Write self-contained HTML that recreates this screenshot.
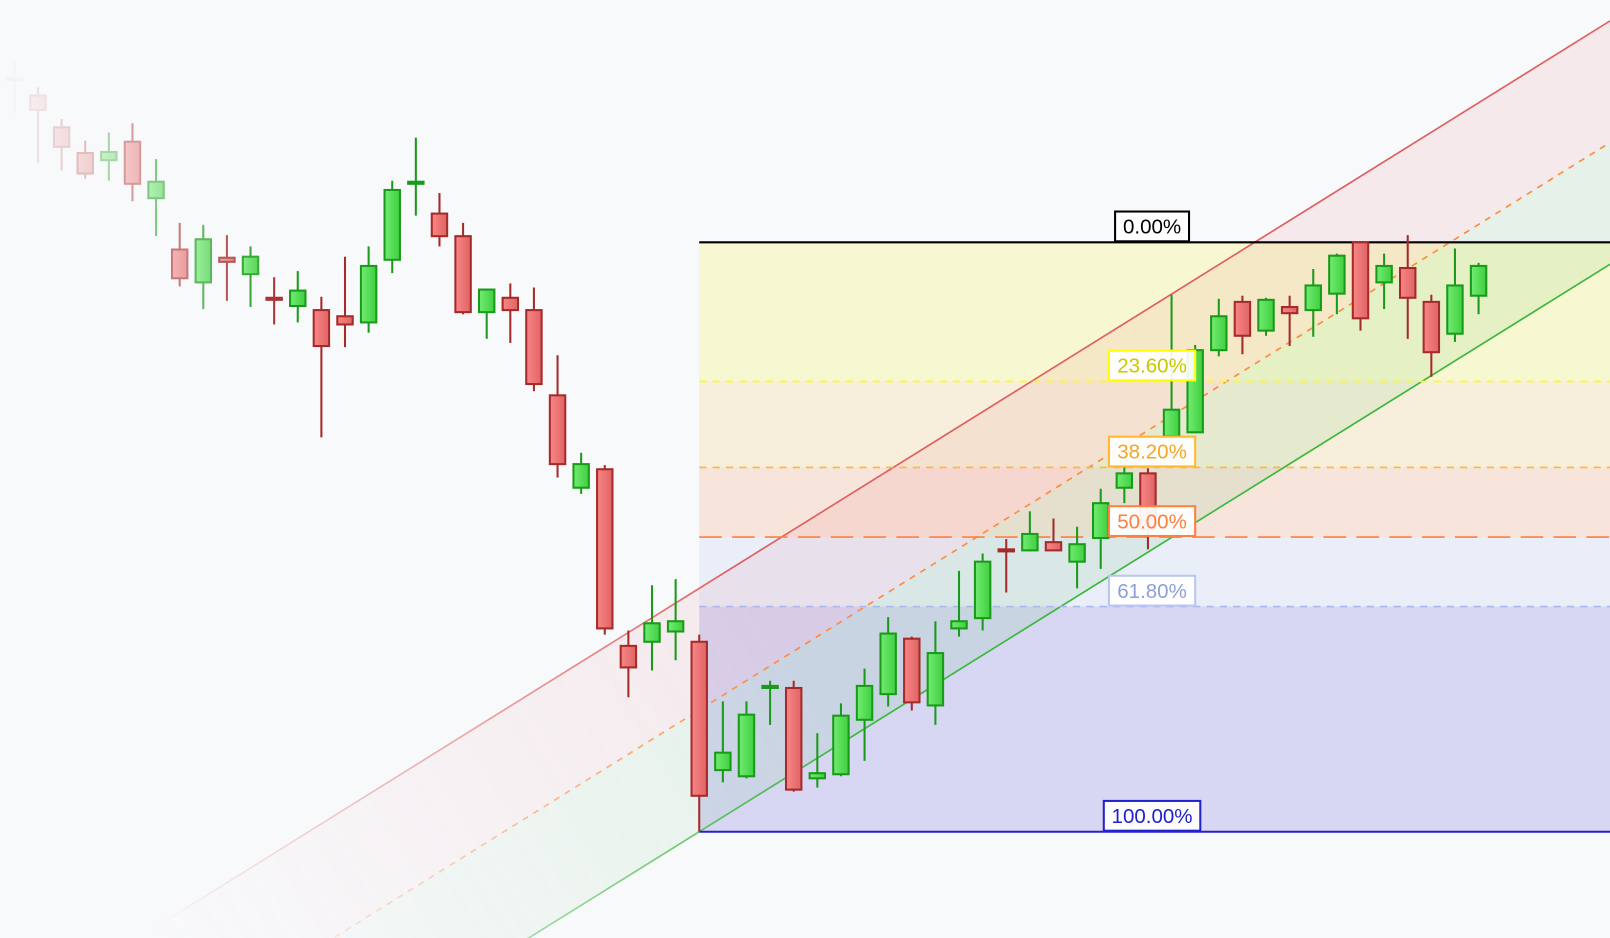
<!DOCTYPE html>
<html><head><meta charset="utf-8"><style>
html,body{margin:0;padding:0;background:#f8f9fb;width:1610px;height:938px;overflow:hidden;position:relative;}
svg{display:block;position:absolute;left:0;top:0;font-family:"Liberation Sans",sans-serif;}
</style></head><body>
<svg id="chart" width="1610" height="938" viewBox="0 0 1568 913.5" preserveAspectRatio="none" overflow="hidden" xmlns="http://www.w3.org/2000/svg">
<defs>
<linearGradient id="gUp" x1="0" x2="1"><stop offset="0" stop-color="#72ec72"/><stop offset="1" stop-color="#3fcf3f"/></linearGradient>
<linearGradient id="gDn" x1="0" x2="1"><stop offset="0" stop-color="#f88686"/><stop offset="1" stop-color="#e06464"/></linearGradient>
<linearGradient id="fadeLine" gradientUnits="userSpaceOnUse" x1="150" y1="913" x2="720" y2="560">
<stop offset="0" stop-color="#fff" stop-opacity="0"/><stop offset="1" stop-color="#fff" stop-opacity="1"/></linearGradient>
<mask id="chanMask" maskUnits="userSpaceOnUse" x="0" y="0" width="1568" height="913.5"><rect x="0" y="0" width="1568" height="913.5" fill="url(#fadeLine)"/></mask>
</defs>
<rect x="0" y="0" width="1568" height="913.5" fill="#f8f9fb"/>
<g id="fibZones"></g>
<g id="channel" mask="url(#chanMask)"></g>
<g id="fibLines"></g>
<g id="candles"></g>
<g id="fibLabels"></g>
</svg>
<script>
// ---- data (prices) ----
const opens  = [922,907,876,851,844,862,807,757,725,749,733,710,702,698,692,686,747,821,792,770,696,710,698,615,525,543,371,375,385,375,250,244,330,330,242,246,299,324,378,313,388,398,465,464,472,453,476,525,539,575,579,659,706,678,701,698,714,764,725,739,706,675,712];
const closes = [924,893,857,831,852,821,823,729,767,745,750,708,717,663,684,741,815,823,770,696,718,698,626,548,548,388,350,393,395,225,267,304,332,231,247,303,332,383,316,364,395,453,463,480,464,470,510,539,485,601,659,692,673,708,695,722,751,690,741,710,657,722,741];
const highs  = [943,915,884,863,871,880,845,783,781,771,760,730,736,711,750,760,824,866,812,783,718,724,720,654,559,547,386,430,436,382,317,317,337,337,286,315,349,399,380,395,444,461,475,502,495,487,524,548,544,713,664,709,712,710,712,738,753,764,753,771,713,758,744];
const lows   = [889,841,834,826,824,804,770,721,699,707,701,684,686,574,662,676,734,790,760,694,670,666,619,535,519,382,321,347,357,190,238,242,294,229,233,244,259,312,308,294,380,386,423,463,464,427,446,510,465,572,578,653,655,673,663,672,694,678,699,670,633,667,694];
const fibRatios = [0, 0.236, 0.382, 0.5, 0.618, 1];
const fibLabelsTxt = ["0.00%","23.60%","38.20%","50.00%","61.80%","100.00%"];
const fibSwing = [190, 764]; // low, high
const fibStartIndex = 29;
const channelAnchor = [29, 190];   // bar index, price of lower line
const channelSlope = [14.33];      // price per bar
const channelWidth = [237];        // price offset of upper line

// ---- axis functions ----
const X0 = 14, STEP = 23;
const xOf = i => X0 + STEP * i;
const yOf = p => 1000 - p;
const NS = "http://www.w3.org/2000/svg";
function mk(tag, attrs, parent){const e=document.createElementNS(NS,tag);for(const k in attrs)e.setAttribute(k,attrs[k]);parent.appendChild(e);return e;}
const W = 1568;

// ---- fib zones ----
const zoneFill = ["rgba(245,245,150,0.42)","rgba(245,220,160,0.35)","rgba(245,190,160,0.35)","rgba(200,212,245,0.3)","rgba(170,170,230,0.42)"];
const lineCol = ["#000000","#ffff00","#ffb830","#ff7f3f","#a8b8f0","#2222cc"];
const dash = [null,"7,6","7,6","22,10","7,6",null];
const textCol = ["#000","#c8c800","#f5a623","#ff7f3f","#8fa0d8","#2222cc"];
const zones=document.getElementById('fibZones'), fl=document.getElementById('fibLines'), lb=document.getElementById('fibLabels');
const fx = xOf(fibStartIndex);
const levelY = fibRatios.map(r => yOf(fibSwing[1] - r*(fibSwing[1]-fibSwing[0])));
for(let k=0;k<fibRatios.length-1;k++){
  const z=mk('rect',{x:fx,y:levelY[k],width:W-fx,height:levelY[k+1]-levelY[k],fill:zoneFill[k]},zones);
  
  
}
for(let k=0;k<fibRatios.length;k++){
  const a={x1:fx,x2:W,y1:levelY[k],y2:levelY[k],stroke:lineCol[k],'stroke-width':(k==0||k==5)?2:1.6};
  if(dash[k])a['stroke-dasharray']=dash[k];
  const l=mk('line',a,fl);
  
  
  const g=mk('g',{},lb);
  
  
  const wdt = fibLabelsTxt[k].length>6?94:(fibLabelsTxt[k].length>5?84:72);
  mk('rect',{x:1122-wdt/2,y:levelY[k]-30,width:wdt,height:29,fill:'rgba(255,255,255,0.92)',stroke:k==1?'#ffff00':(k==4?'#b8c6f2':lineCol[k]),'stroke-width':2},g);
  const t=mk('text',{x:1122,y:levelY[k]-8.5,'text-anchor':'middle','font-size':20,fill:textCol[k]},g);
  t.textContent=fibLabelsTxt[k];
}

// ---- channel ----
const ch=document.getElementById('channel');
const lowerAt = x => yOf(channelAnchor[1] + channelSlope[0]*((x - xOf(channelAnchor[0]))/STEP));
const upperAt = x => lowerAt(x) - channelWidth[0];
const midAt = x => lowerAt(x) - channelWidth[0]/2;
const xa=0, xb=W;
const upFill=mk('polygon',{points:`${xa},${upperAt(xa)} ${xb},${upperAt(xb)} ${xb},${midAt(xb)} ${xa},${midAt(xa)}`,fill:'rgba(230,120,130,0.12)'},ch);


const dnFill=mk('polygon',{points:`${xa},${midAt(xa)} ${xb},${midAt(xb)} ${xb},${lowerAt(xb)} ${xa},${lowerAt(xa)}`,fill:'rgba(120,200,130,0.14)'},ch);


const up=mk('line',{x1:xa,y1:upperAt(xa),x2:xb,y2:upperAt(xb),stroke:'#e06060','stroke-width':1.6},ch);


const md=mk('line',{x1:xa,y1:midAt(xa),x2:xb,y2:midAt(xb),stroke:'#ff8a40','stroke-width':1.6,'stroke-dasharray':'6,6'},ch);


const lo=mk('line',{x1:xa,y1:lowerAt(xa),x2:xb,y2:lowerAt(xb),stroke:'#3cb83c','stroke-width':1.6},ch);



// ---- candles ----
const cg=document.getElementById('candles');
for(let i=0;i<opens.length;i++){
  const upC = closes[i]>=opens[i];
  const g=mk('g',{opacity:Math.min(1,(i+0.3)/12)},cg);
  
  
  const x=xOf(i), stroke=upC?'#1a9a1a':'#a52a2a';
  mk('line',{x1:x,x2:x,y1:yOf(highs[i]),y2:yOf(lows[i]),stroke:stroke,'stroke-width':2},g);
  const top=yOf(Math.max(opens[i],closes[i])), bot=yOf(Math.min(opens[i],closes[i]));
  mk('rect',{x:x-7.5,y:top,width:15,height:Math.max(bot-top,1.5),fill:upC?'url(#gUp)':'url(#gDn)',stroke:stroke,'stroke-width':2},g);
}
</script>
</body></html>
